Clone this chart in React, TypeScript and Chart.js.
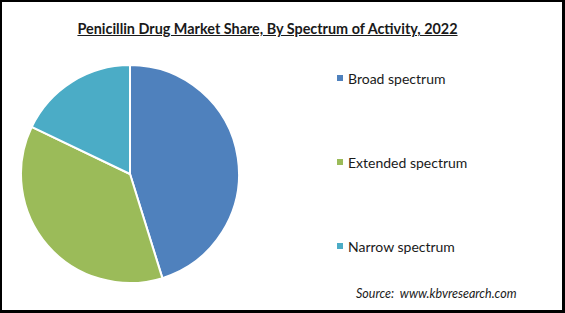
import React, { useEffect, useRef } from "react";
import { Chart, registerables } from "chart.js";

Chart.register(...registerables);

const TITLE = "Penicillin Drug Market Share, By Spectrum of Activity, 2022";
const SOURCE = "Source:  www.kbvresearch.com";
const categories = ["Broad spectrum", "Extended spectrum", "Narrow spectrum"];
const shares = [45.2, 36.9, 17.9];
const colors = ["#4F81BD", "#9BBB59", "#4BACC6"];

export default function App() {
  const canvasRef = useRef<HTMLCanvasElement | null>(null);

  useEffect(() => {
    const canvas = canvasRef.current;
    if (!canvas) return;
    const chart = new Chart(canvas, {
      type: "pie",
      data: {
        labels: categories,
        datasets: [
          {
            data: shares,
            backgroundColor: colors,
            borderColor: "#ffffff",
            borderWidth: 2,
          },
        ],
      },
      options: {
        responsive: false,
        animation: false,
        layout: { padding: 0 },
        plugins: {
          legend: { display: false },
          tooltip: { enabled: false },
        },
      },
    });
    return () => chart.destroy();
  }, []);

  const legendTops = [68, 152, 236];

  return (
    <div
      style={{
        position: "fixed",
        left: 0,
        top: 0,
        width: 565,
        height: 313,
        boxSizing: "border-box",
        borderStyle: "solid",
        borderColor: "#000",
        borderWidth: "2px 3px 3px 2px",
        background: "#fff",
        fontFamily: "Lato, 'Open Sans', sans-serif",
        color: "#1a1a1a",
        overflow: "hidden",
      }}
    >
      <div
        style={{
          position: "absolute",
          left: 0,
          width: 531,
          top: 17,
          textAlign: "center",
          fontWeight: 700,
          fontSize: 14.4,
          textDecoration: "underline",
          whiteSpace: "nowrap",
          lineHeight: "20px",
        }}
      >
        {TITLE}
      </div>
      <canvas
        ref={canvasRef}
        width={220}
        height={220}
        style={{ position: "absolute", left: 18, top: 62, width: 220, height: 220 }}
      />
      {categories.map((c, i) => (
        <div
          key={c}
          style={{
            position: "absolute",
            left: 335,
            top: legendTops[i],
            height: 16,
            display: "flex",
            alignItems: "center",
            fontSize: 14,
            whiteSpace: "nowrap",
          }}
        >
          <span
            style={{
              display: "inline-block",
              width: 6,
              height: 6,
              background: colors[i],
              marginRight: 5,
            }}
          />
          {c}
        </div>
      ))}
      <div
        style={{
          position: "absolute",
          left: 354,
          top: 284,
          fontSize: 12.5,
          fontStyle: "italic",
          whiteSpace: "pre",
        }}
      >
        {SOURCE}
      </div>
    </div>
  );
}
